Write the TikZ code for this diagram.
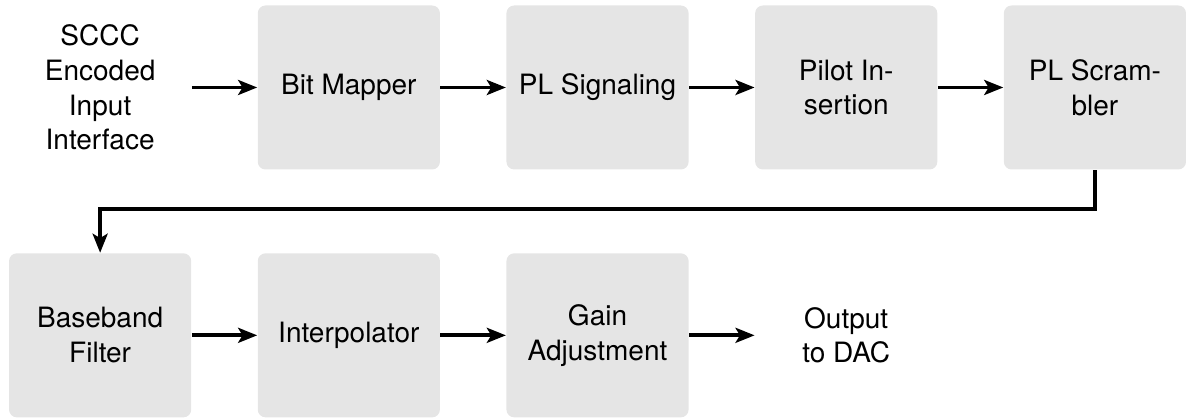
\documentclass[tikz,border=0pt]{standalone}
\usepackage{fontspec}
\setmainfont{TeX Gyre Heros}
\usetikzlibrary{positioning, arrows.meta}

\begin{document}
\begin{tikzpicture}[
  font=\fontsize{10.3pt}{12.8pt}\selectfont,
  block/.style={rectangle, rounded corners=0.1cm, fill=gray!20, minimum width=2.355cm, minimum height=2.12cm, align=center, inner sep=0pt},
  port/.style={rectangle, minimum width=2.355cm, minimum height=2.12cm, align=center, inner sep=0pt},
  arrow/.style={-{Stealth[length=7pt, width=5.5pt, inset=1.6pt]}, line width=1.4pt}
]

\node[port] (in) {SCCC\\Encoded\\Input\\Interface};
\node[block, right=0.846cm of in] (map) {Bit Mapper};
\node[block, right=0.846cm of map] (sig) {PL Signaling};
\node[block, right=0.846cm of sig] (pilot) {Pilot In-\\sertion};
\node[block, right=0.846cm of pilot] (scram) {PL Scram-\\bler};

\node[block, below=1.07cm of in] (filt) {Baseband\\Filter};
\node[block, right=0.846cm of filt] (interp) {Interpolator};
\node[block, right=0.846cm of interp] (gain) {Gain\\Adjustment};
\node[port, right=0.846cm of gain] (out) {Output\\to DAC};

\draw[arrow] (in) -- (map);
\draw[arrow] (map) -- (sig);
\draw[arrow] (sig) -- (pilot);
\draw[arrow] (pilot) -- (scram);

\draw[arrow] (scram.south) -- ++(0,-0.5) -| (filt.north);

\draw[arrow] (filt) -- (interp);
\draw[arrow] (interp) -- (gain);
\draw[arrow] (gain) -- (out);

\useasboundingbox ([shift={(-0.11cm,0.064cm)}]in.north west) rectangle ++(15.27cm,-5.39cm);

\end{tikzpicture}
\end{document}
